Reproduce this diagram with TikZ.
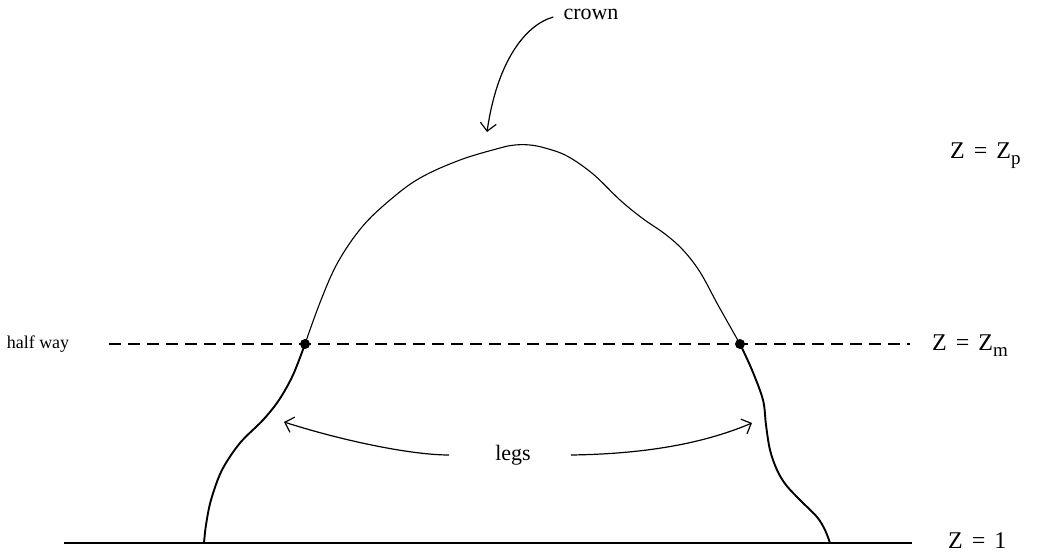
\documentclass[tikz,border=0pt]{standalone}
\usepackage{fontspec}
\setmainfont{Liberation Serif}
\usetikzlibrary{arrows.meta}
\begin{document}
\begin{tikzpicture}[x=1pt,y=-1pt,
  thinline/.style={line width=1.1pt},
  legline/.style={line width=1.9pt},
  baseline/.style={line width=1.4pt},
  dashline/.style={line width=1.2pt, dash pattern=on 12pt off 7pt},
  pointer/.style={line width=1.2pt, -{Straight Barb[length=8pt,width=16pt,line width=1.2pt]}},
  dot/.style={circle, fill=black, inner sep=0pt, minimum size=10pt},
  lbl/.style={font=\fontsize{22}{22}\selectfont, inner sep=0pt},
  smalllbl/.style={font=\fontsize{18}{18}\selectfont, inner sep=0pt},
  zlbl/.style={font=\fontsize{24}{24}\selectfont, inner sep=0pt, anchor=west},
]
\useasboundingbox (0,0) rectangle (1042,557);

% labels
\node[lbl] (crown) at (591,14) {crown};
\node[lbl] (legs) at (513,455) {legs};
\node[smalllbl] (half) at (38,344) {half way};
\node[zlbl] (zp) at (950,156) {Z\hspace{9pt}=\hspace{9pt}Z\raisebox{-6pt}{\fontsize{19}{19}\selectfont p}};
\node[zlbl] (zm) at (932,346) {Z\hspace{9pt}=\hspace{9pt}Z\raisebox{-6pt}{\fontsize{19}{19}\selectfont m}};
\node[zlbl] (z1) at (948,541) {Z\hspace{9pt}=\hspace{9pt}1};

% dots
\node[dot] (dl) at (305,344) {};
\node[dot] (dr) at (740,344) {};

% dashed line and ground
\coordinate (hl) at (109,344);
\coordinate (hr) at (910,344);
\draw[dashline] (hl) -- (hr);
\coordinate (gl) at (64,543);
\coordinate (gr) at (912,543);
\draw[baseline] (gl) -- (gr);

% crown
\draw[thinline] plot[smooth, tension=0.6] coordinates {(305,344) (321,300) (338,262) (362,227) (390,200) (420,178) (460,160) (500,148) (515,145) (530,145) (545,148) (567,156) (593,174) (620,200) (642,218) (665,234) (683,250) (700,272) (718,305) (740,344)};

% legs
\draw[legline] plot[smooth, tension=0.55] coordinates {(305,344) (293,375) (279,400) (263,420) (240,443) (222,470) (211,500) (206,525) (204,543)};
\draw[legline] plot[smooth, tension=0.55] coordinates {(740,344) (752,370) (763,400) (766,425) (770,450) (777,470) (786,485) (800,500) (817,517) (825,530) (830,543)};

% pointers
\coordinate (ct) at (487,132);
\draw[pointer] (crown.west) ++(-10,3) .. controls (525,25) and (497,62) .. (ct);
\coordinate (lt) at (284,422);
\coordinate (rt) at (752,423);
\draw[pointer] (legs.west) ++(-46,0) .. controls (410,455) and (340,440) .. (lt);
\draw[pointer] (legs.east) ++(40,0) .. controls (640,454) and (700,445) .. (rt);
\end{tikzpicture}
\end{document}
